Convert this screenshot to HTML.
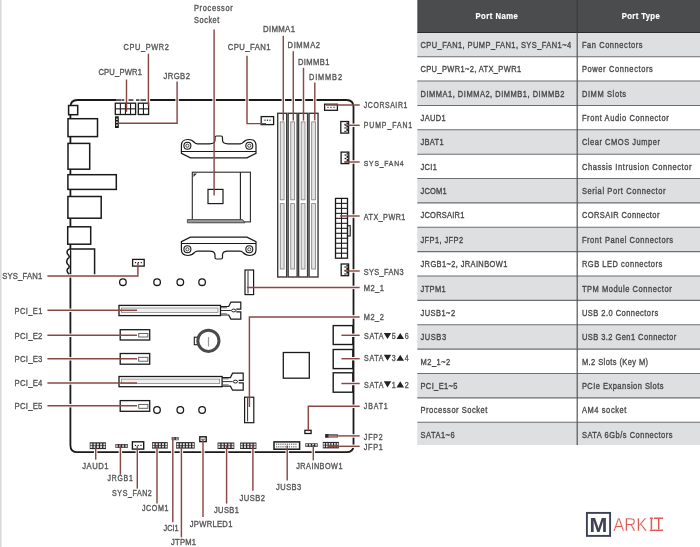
<!DOCTYPE html>
<html><head><meta charset="utf-8"><style>
html,body{margin:0;padding:0;background:#fff;}
body{width:700px;height:547px;overflow:hidden;position:relative;}
svg{position:absolute;left:0;top:0;will-change:transform;}
text{font-family:"Liberation Sans",sans-serif;}
</style></head><body>
<svg width="700" height="547" viewBox="0 0 700 547">
<rect x="0" y="0" width="1.60" height="547.00" fill="#d9d9d9"/>
<path d="M70.4,445.2 L70.4,107.0 Q70.4,100.0 77.4,100.0 L346.5,100.0 Q353.5,100.0 353.5,107.0 L353.5,445.2 Q353.5,452.2 346.5,452.2 L77.4,452.2 Q70.4,452.2 70.4,445.2 Z" fill="none" stroke="#1a1a1a" stroke-width="1.8"/>
<rect x="68.6" y="105.5" width="9.10" height="9.20" fill="#fff" stroke="#1a1a1a" stroke-width="1.5"/>
<rect x="68" y="118.7" width="29.50" height="17.90" fill="#fff" stroke="#1a1a1a" stroke-width="1.5"/>
<rect x="68" y="143.4" width="21.70" height="25.80" fill="#fff" stroke="#1a1a1a" stroke-width="1.5"/>
<rect x="67.9" y="174.7" width="48.40" height="14.70" fill="#fff" stroke="#1a1a1a" stroke-width="1.5"/>
<rect x="67.9" y="196.5" width="33.30" height="21.70" fill="#fff" stroke="#1a1a1a" stroke-width="1.5"/>
<rect x="67.7" y="226.8" width="23.00" height="17.40" fill="#fff" stroke="#1a1a1a" stroke-width="1.5"/>
<path d="M70,249 L94.6,249 L94.6,274.3 M70,249 Q66,250 67.5,254 Q71,257 67.5,259 Q66,262 67.5,264 Q71,267 67.5,269 Q66,272 69.5,274.3" fill="#fff" stroke="#1a1a1a" stroke-width="1.5"/>
<rect x="116" y="98.8" width="32.60" height="2.50" fill="#fff"/>
<rect x="116" y="99.2" width="5.00" height="1.70" fill="#444"/>
<rect x="121.4" y="99.2" width="2.90" height="1.70" fill="#444"/>
<rect x="128.4" y="99.2" width="5.00" height="1.70" fill="#444"/>
<rect x="136" y="99.2" width="3.50" height="1.70" fill="#444"/>
<rect x="140.4" y="99.2" width="5.70" height="1.70" fill="#444"/>
<rect x="115.3" y="103.2" width="20.30" height="11.30" fill="#fff" stroke="#1a1a1a" stroke-width="1.3"/>
<line x1="120.375" y1="103.2" x2="120.375" y2="114.5" stroke="#1a1a1a" stroke-width="1.1"/>
<line x1="125.44999999999999" y1="103.2" x2="125.44999999999999" y2="114.5" stroke="#1a1a1a" stroke-width="1.1"/>
<line x1="130.525" y1="103.2" x2="130.525" y2="114.5" stroke="#1a1a1a" stroke-width="1.1"/>
<line x1="115.3" y1="108.85" x2="135.6" y2="108.85" stroke="#1a1a1a" stroke-width="1.1"/>
<rect x="138.3" y="103.2" width="10.30" height="11.30" fill="#fff" stroke="#1a1a1a" stroke-width="1.3"/>
<line x1="143.45" y1="103.2" x2="143.45" y2="114.5" stroke="#1a1a1a" stroke-width="1.1"/>
<line x1="138.3" y1="108.85" x2="148.6" y2="108.85" stroke="#1a1a1a" stroke-width="1.1"/>
<rect x="115.0" y="116.3" width="3.80" height="11.70" fill="#1a1a1a"/>
<rect x="116.2" y="118.5" width="1.40" height="1.40" fill="#fff"/>
<rect x="116.2" y="121.5" width="1.40" height="1.40" fill="#fff"/>
<rect x="116.2" y="124.5" width="1.40" height="1.40" fill="#fff"/>
<path d="M190.4,237.1 L247,237.1 L256,241.6 L256,249.5 Q256,255.5 249.5,255.5 Q245.5,255.5 243,252.5 Q242,251.2 240,251.2 L228,251.2 Q222.5,251.2 222.5,255 L222.5,257.5 Q222.5,259 221,259 L216.5,259 Q215,259 215,257.5 L215,255 Q215,251.2 209.5,251.2 L197.5,251.2 Q195.5,251.2 194.5,252.5 Q192,255.5 188,255.5 Q181.4,255.5 181.4,249.5 L181.4,241.6 Z" fill="#fff" stroke="#1a1a1a" stroke-width="1.2"/><line x1="181.4" y1="243.5" x2="256" y2="243.5" stroke="#1a1a1a" stroke-width="1.0"/><circle cx="187.4" cy="249.3" r="3.5" fill="none" stroke="#1a1a1a" stroke-width="1.1"/><circle cx="187.4" cy="249.3" r="1.6" fill="none" stroke="#1a1a1a" stroke-width="0.8"/><circle cx="249.3" cy="249.3" r="3.5" fill="none" stroke="#1a1a1a" stroke-width="1.1"/><circle cx="249.3" cy="249.3" r="1.6" fill="none" stroke="#1a1a1a" stroke-width="0.8"/>
<g transform="translate(0,395) scale(1,-1)"><path d="M190.4,237.1 L247,237.1 L256,241.6 L256,249.5 Q256,255.5 249.5,255.5 Q245.5,255.5 243,252.5 Q242,251.2 240,251.2 L228,251.2 Q222.5,251.2 222.5,255 L222.5,257.5 Q222.5,259 221,259 L216.5,259 Q215,259 215,257.5 L215,255 Q215,251.2 209.5,251.2 L197.5,251.2 Q195.5,251.2 194.5,252.5 Q192,255.5 188,255.5 Q181.4,255.5 181.4,249.5 L181.4,241.6 Z" fill="#fff" stroke="#1a1a1a" stroke-width="1.2"/><line x1="181.4" y1="243.5" x2="256" y2="243.5" stroke="#1a1a1a" stroke-width="1.0"/><circle cx="187.4" cy="249.3" r="3.5" fill="none" stroke="#1a1a1a" stroke-width="1.1"/><circle cx="187.4" cy="249.3" r="1.6" fill="none" stroke="#1a1a1a" stroke-width="0.8"/><circle cx="249.3" cy="249.3" r="3.5" fill="none" stroke="#1a1a1a" stroke-width="1.1"/><circle cx="249.3" cy="249.3" r="1.6" fill="none" stroke="#1a1a1a" stroke-width="0.8"/></g>
<rect x="192.3" y="172.2" width="58.10" height="49.70" fill="#fff" stroke="#2a2a2a" stroke-width="1.1"/>
<line x1="240.4" y1="172.2" x2="240.4" y2="221.9" stroke="#1a1a1a" stroke-width="1.1"/>
<rect x="208" y="189.4" width="15.00" height="14.20" fill="none" stroke="#1a1a1a" stroke-width="1.2"/>
<path d="M187.4,219.6 L242.5,219.6 L245,222.8 L187.4,222.8 Z" fill="#9a9a9a" stroke="#444" stroke-width="0.9"/>
<path d="M193.5,173.5 L197,173.5 L193.5,177 Z" fill="#333"/>
<rect x="277.7" y="113.3" width="9.00" height="163.70" fill="#fff" stroke="#3a3a3a" stroke-width="1.4"/>
<rect x="280.3" y="121.9" width="3.80" height="77.90" fill="#e4e4e4" stroke="#8a8a8a" stroke-width="0.9"/>
<rect x="280.3" y="203.6" width="3.80" height="65.40" fill="#e4e4e4" stroke="#8a8a8a" stroke-width="0.9"/>
<rect x="288.15" y="113.3" width="9.00" height="163.70" fill="#fff" stroke="#3a3a3a" stroke-width="1.4"/>
<rect x="290.75" y="121.9" width="3.80" height="77.90" fill="#e4e4e4" stroke="#8a8a8a" stroke-width="0.9"/>
<rect x="290.75" y="203.6" width="3.80" height="65.40" fill="#e4e4e4" stroke="#8a8a8a" stroke-width="0.9"/>
<rect x="298.59999999999997" y="113.3" width="9.00" height="163.70" fill="#fff" stroke="#3a3a3a" stroke-width="1.4"/>
<rect x="301.2" y="121.9" width="3.80" height="77.90" fill="#e4e4e4" stroke="#8a8a8a" stroke-width="0.9"/>
<rect x="301.2" y="203.6" width="3.80" height="65.40" fill="#e4e4e4" stroke="#8a8a8a" stroke-width="0.9"/>
<rect x="309.05" y="113.3" width="9.00" height="163.70" fill="#fff" stroke="#3a3a3a" stroke-width="1.4"/>
<rect x="311.65000000000003" y="121.9" width="3.80" height="77.90" fill="#e4e4e4" stroke="#8a8a8a" stroke-width="0.9"/>
<rect x="311.65000000000003" y="203.6" width="3.80" height="65.40" fill="#e4e4e4" stroke="#8a8a8a" stroke-width="0.9"/>
<rect x="324.6" y="104.2" width="12.80" height="6.10" fill="#fff" stroke="#1a1a1a" stroke-width="1.3"/>
<rect x="327.4" y="106.8" width="1.20" height="1.00" fill="#1a1a1a"/>
<rect x="330.4" y="106.8" width="1.20" height="1.00" fill="#1a1a1a"/>
<rect x="333.4" y="106.8" width="1.20" height="1.00" fill="#1a1a1a"/>
<rect x="340.8" y="121.5" width="7.80" height="11.60" fill="#fff" stroke="#1a1a1a" stroke-width="1.3"/>
<rect x="346.40000000000003" y="122.5" width="1.60" height="9.60" fill="#1a1a1a"/>
<rect x="344.40000000000003" y="123.82" width="1.40" height="1.30" fill="#1a1a1a"/>
<rect x="346.6" y="123.91999999999999" width="1.10" height="1.10" fill="#fff"/>
<rect x="344.40000000000003" y="127.3" width="1.40" height="1.30" fill="#1a1a1a"/>
<rect x="346.6" y="127.39999999999999" width="1.10" height="1.10" fill="#fff"/>
<rect x="344.40000000000003" y="130.78" width="1.40" height="1.30" fill="#1a1a1a"/>
<rect x="346.6" y="130.88" width="1.10" height="1.10" fill="#fff"/>
<rect x="341.1" y="152.1" width="7.70" height="11.50" fill="#fff" stroke="#1a1a1a" stroke-width="1.3"/>
<rect x="346.6" y="153.1" width="1.60" height="9.50" fill="#1a1a1a"/>
<rect x="344.6" y="154.4" width="1.40" height="1.30" fill="#1a1a1a"/>
<rect x="346.8" y="154.5" width="1.10" height="1.10" fill="#fff"/>
<rect x="344.6" y="157.85" width="1.40" height="1.30" fill="#1a1a1a"/>
<rect x="346.8" y="157.95" width="1.10" height="1.10" fill="#fff"/>
<rect x="344.6" y="161.29999999999998" width="1.40" height="1.30" fill="#1a1a1a"/>
<rect x="346.8" y="161.39999999999998" width="1.10" height="1.10" fill="#fff"/>
<rect x="335.5" y="198.4" width="12.00" height="59.80" fill="#fff" stroke="#1a1a1a" stroke-width="1.3"/>
<line x1="341.5" y1="198.4" x2="341.5" y2="258.2" stroke="#1a1a1a" stroke-width="1.1"/>
<line x1="335.5" y1="203.38333333333333" x2="347.5" y2="203.38333333333333" stroke="#1a1a1a" stroke-width="1.1"/>
<line x1="335.5" y1="208.36666666666667" x2="347.5" y2="208.36666666666667" stroke="#1a1a1a" stroke-width="1.1"/>
<line x1="335.5" y1="213.35" x2="347.5" y2="213.35" stroke="#1a1a1a" stroke-width="1.1"/>
<line x1="335.5" y1="218.33333333333334" x2="347.5" y2="218.33333333333334" stroke="#1a1a1a" stroke-width="1.1"/>
<line x1="335.5" y1="223.31666666666666" x2="347.5" y2="223.31666666666666" stroke="#1a1a1a" stroke-width="1.1"/>
<line x1="335.5" y1="228.3" x2="347.5" y2="228.3" stroke="#1a1a1a" stroke-width="1.1"/>
<line x1="335.5" y1="233.28333333333333" x2="347.5" y2="233.28333333333333" stroke="#1a1a1a" stroke-width="1.1"/>
<line x1="335.5" y1="238.26666666666665" x2="347.5" y2="238.26666666666665" stroke="#1a1a1a" stroke-width="1.1"/>
<line x1="335.5" y1="243.25" x2="347.5" y2="243.25" stroke="#1a1a1a" stroke-width="1.1"/>
<line x1="335.5" y1="248.23333333333332" x2="347.5" y2="248.23333333333332" stroke="#1a1a1a" stroke-width="1.1"/>
<line x1="335.5" y1="253.21666666666667" x2="347.5" y2="253.21666666666667" stroke="#1a1a1a" stroke-width="1.1"/>
<rect x="347.5" y="225.7" width="2.70" height="10.30" fill="none" stroke="#1a1a1a" stroke-width="1.1"/>
<rect x="341.2" y="264" width="7.40" height="11.70" fill="#fff" stroke="#1a1a1a" stroke-width="1.3"/>
<rect x="346.40000000000003" y="265" width="1.60" height="9.70" fill="#1a1a1a"/>
<rect x="344.40000000000003" y="266.34" width="1.40" height="1.30" fill="#1a1a1a"/>
<rect x="346.6" y="266.44" width="1.10" height="1.10" fill="#fff"/>
<rect x="344.40000000000003" y="269.85" width="1.40" height="1.30" fill="#1a1a1a"/>
<rect x="346.6" y="269.95000000000005" width="1.10" height="1.10" fill="#fff"/>
<rect x="344.40000000000003" y="273.36" width="1.40" height="1.30" fill="#1a1a1a"/>
<rect x="346.6" y="273.46000000000004" width="1.10" height="1.10" fill="#fff"/>
<rect x="261.2" y="116.6" width="12.40" height="8.00" fill="#fff" stroke="#1a1a1a" stroke-width="1.3"/>
<rect x="264.4" y="119.6" width="1.20" height="1.20" fill="#1a1a1a"/>
<rect x="266.9" y="119.6" width="1.20" height="1.20" fill="#1a1a1a"/>
<rect x="269.4" y="119.6" width="1.20" height="1.20" fill="#1a1a1a"/>
<rect x="132.6" y="259.4" width="11.60" height="6.70" fill="#fff" stroke="#1a1a1a" stroke-width="1.3"/>
<rect x="134.9" y="262" width="1.20" height="1.20" fill="#1a1a1a"/>
<rect x="137.8" y="262" width="1.20" height="1.20" fill="#1a1a1a"/>
<rect x="140.70000000000002" y="262" width="1.20" height="1.20" fill="#1a1a1a"/>
<rect x="245" y="270" width="8.60" height="24.60" fill="#fff" stroke="#1a1a1a" stroke-width="1.2"/>
<line x1="248" y1="271" x2="248" y2="293.5" stroke="#1a1a1a" stroke-width="0.9"/>
<rect x="244.6" y="397.2" width="9.20" height="25.50" fill="#fff" stroke="#1a1a1a" stroke-width="1.2"/>
<line x1="247.6" y1="398" x2="247.6" y2="421.5" stroke="#1a1a1a" stroke-width="0.9"/>
<rect x="283.3" y="352.5" width="26.00" height="25.70" fill="none" stroke="#1a1a1a" stroke-width="1.3"/>
<rect x="333.2" y="325.6" width="19.60" height="18.90" fill="#fff" stroke="#1a1a1a" stroke-width="1.4"/>
<rect x="333.2" y="349.5" width="19.60" height="19.10" fill="#fff" stroke="#1a1a1a" stroke-width="1.4"/>
<rect x="333.2" y="372.8" width="19.60" height="19.40" fill="#fff" stroke="#1a1a1a" stroke-width="1.4"/>
<rect x="119" y="305.4" width="101.50" height="10.20" fill="#fff" stroke="#1a1a1a" stroke-width="1.3"/>
<rect x="121.5" y="308.0" width="96.50" height="4.50" fill="#f0f0f0" stroke="#888" stroke-width="0.8"/>
<path d="M220.5,306.5 L228.70000000000002,306.5 L230.9,302.09999999999997 L240.8,302.09999999999997 L240.8,309.2 L236.3,309.2 M236.3,311.8 L240.8,311.8 L240.8,319.1 L230.9,319.1 L228.70000000000002,315.0 L220.5,315.0" fill="#fff" stroke="#1a1a1a" stroke-width="1.2"/>
<line x1="221.0" y1="307.7" x2="226.9" y2="307.7" stroke="#777" stroke-width="1.2"/>
<line x1="221.0" y1="313.8" x2="226.9" y2="313.8" stroke="#777" stroke-width="1.2"/>
<line x1="221.0" y1="310.5" x2="230.9" y2="310.5" stroke="#1a1a1a" stroke-width="0.9"/>
<ellipse cx="233.70000000000002" cy="310.5" rx="2.2" ry="1.4" fill="#fff" stroke="#1a1a1a" stroke-width="1.0"/>
<rect x="120.2" y="329.7" width="29.50" height="10.30" fill="#fff" stroke="#1a1a1a" stroke-width="1.3"/>
<rect x="138.7" y="333.5" width="9.20" height="3.50" fill="none" stroke="#555" stroke-width="0.9"/>
<rect x="120.2" y="353.5" width="29.50" height="10.70" fill="#fff" stroke="#1a1a1a" stroke-width="1.3"/>
<rect x="138.7" y="357.3" width="9.20" height="3.90" fill="none" stroke="#555" stroke-width="0.9"/>
<rect x="119" y="376.5" width="103.10" height="10.20" fill="#fff" stroke="#1a1a1a" stroke-width="1.3"/>
<rect x="121.5" y="379.1" width="98.10" height="4.50" fill="#f0f0f0" stroke="#888" stroke-width="0.8"/>
<path d="M222.1,377.6 L230.4,377.6 L232.6,373.2 L243.2,373.2 L243.2,380.3 L238.7,380.3 M238.7,382.90000000000003 L243.2,382.90000000000003 L243.2,390.2 L232.6,390.2 L230.4,386.09999999999997 L222.1,386.09999999999997" fill="#fff" stroke="#1a1a1a" stroke-width="1.2"/>
<line x1="222.6" y1="378.8" x2="228.6" y2="378.8" stroke="#777" stroke-width="1.2"/>
<line x1="222.6" y1="384.9" x2="228.6" y2="384.9" stroke="#777" stroke-width="1.2"/>
<line x1="222.6" y1="381.6" x2="232.6" y2="381.6" stroke="#1a1a1a" stroke-width="0.9"/>
<ellipse cx="235.4" cy="381.6" rx="2.2" ry="1.4" fill="#fff" stroke="#1a1a1a" stroke-width="1.0"/>
<rect x="120.2" y="400.6" width="29.50" height="10.70" fill="#fff" stroke="#1a1a1a" stroke-width="1.3"/>
<rect x="138.7" y="404.40000000000003" width="9.20" height="3.90" fill="none" stroke="#555" stroke-width="0.9"/>
<rect x="194.3" y="337.2" width="5.20" height="7.50" fill="#fff" stroke="#1a1a1a" stroke-width="1.1"/>
<circle cx="208.4" cy="340.8" r="10.6" fill="#fff" stroke="#4a4a4a" stroke-width="3.0"/>
<rect x="207.9" y="337" width="1.20" height="9.50" fill="#999"/>
<circle cx="122.9" cy="282.2" r="3.3" fill="none" stroke="#1a1a1a" stroke-width="1.3"/>
<circle cx="157.1" cy="282.2" r="3.3" fill="none" stroke="#1a1a1a" stroke-width="1.3"/>
<circle cx="180.3" cy="282.2" r="3.3" fill="none" stroke="#1a1a1a" stroke-width="1.3"/>
<circle cx="202.1" cy="282.2" r="3.3" fill="none" stroke="#1a1a1a" stroke-width="1.3"/>
<circle cx="157" cy="410" r="3.3" fill="none" stroke="#1a1a1a" stroke-width="1.3"/>
<circle cx="180.3" cy="410" r="3.3" fill="none" stroke="#1a1a1a" stroke-width="1.3"/>
<circle cx="202.1" cy="410" r="3.3" fill="none" stroke="#1a1a1a" stroke-width="1.3"/>
<rect x="89.7" y="442.3" width="16.30" height="6.80" fill="#2a2a2a"/>
<rect x="90.352" y="443.456" width="1.96" height="1.90" fill="#e2e2e2"/>
<rect x="90.352" y="446.04" width="1.96" height="1.90" fill="#e2e2e2"/>
<rect x="93.61200000000001" y="443.456" width="1.96" height="1.90" fill="#e2e2e2"/>
<rect x="93.61200000000001" y="446.04" width="1.96" height="1.90" fill="#e2e2e2"/>
<rect x="96.872" y="443.456" width="1.96" height="1.90" fill="#e2e2e2"/>
<rect x="96.872" y="446.04" width="1.96" height="1.90" fill="#e2e2e2"/>
<rect x="100.132" y="443.456" width="1.96" height="1.90" fill="#e2e2e2"/>
<rect x="100.132" y="446.04" width="1.96" height="1.90" fill="#e2e2e2"/>
<rect x="103.392" y="443.456" width="1.96" height="1.90" fill="#e2e2e2"/>
<rect x="103.392" y="446.04" width="1.96" height="1.90" fill="#e2e2e2"/>
<rect x="115.4" y="444" width="12.40" height="3.90" fill="#2a2a2a"/>
<rect x="116.02000000000001" y="444.663" width="1.86" height="1.09" fill="#e2e2e2"/>
<rect x="116.02000000000001" y="446.145" width="1.86" height="1.09" fill="#e2e2e2"/>
<rect x="119.12" y="444.663" width="1.86" height="1.09" fill="#e2e2e2"/>
<rect x="119.12" y="446.145" width="1.86" height="1.09" fill="#e2e2e2"/>
<rect x="122.22" y="444.663" width="1.86" height="1.09" fill="#e2e2e2"/>
<rect x="122.22" y="446.145" width="1.86" height="1.09" fill="#e2e2e2"/>
<rect x="125.32000000000001" y="444.663" width="1.86" height="1.09" fill="#e2e2e2"/>
<rect x="125.32000000000001" y="446.145" width="1.86" height="1.09" fill="#e2e2e2"/>
<rect x="132.4" y="441.8" width="11.30" height="7.30" fill="#fff" stroke="#1a1a1a" stroke-width="1.4"/>
<rect x="134.9" y="444.8" width="1.20" height="1.20" fill="#1a1a1a"/>
<rect x="137.6" y="444.8" width="1.20" height="1.20" fill="#1a1a1a"/>
<rect x="140.4" y="444.8" width="1.20" height="1.20" fill="#1a1a1a"/>
<rect x="152" y="442.1" width="15.70" height="6.50" fill="#2a2a2a"/>
<rect x="152.628" y="443.20500000000004" width="1.88" height="1.82" fill="#e2e2e2"/>
<rect x="152.628" y="445.675" width="1.88" height="1.82" fill="#e2e2e2"/>
<rect x="155.76799999999997" y="443.20500000000004" width="1.88" height="1.82" fill="#e2e2e2"/>
<rect x="155.76799999999997" y="445.675" width="1.88" height="1.82" fill="#e2e2e2"/>
<rect x="158.908" y="443.20500000000004" width="1.88" height="1.82" fill="#e2e2e2"/>
<rect x="158.908" y="445.675" width="1.88" height="1.82" fill="#e2e2e2"/>
<rect x="162.04799999999997" y="443.20500000000004" width="1.88" height="1.82" fill="#e2e2e2"/>
<rect x="162.04799999999997" y="445.675" width="1.88" height="1.82" fill="#e2e2e2"/>
<rect x="165.188" y="443.20500000000004" width="1.88" height="1.82" fill="#e2e2e2"/>
<rect x="165.188" y="445.675" width="1.88" height="1.82" fill="#e2e2e2"/>
<rect x="171.7" y="437" width="6.90" height="3.20" fill="#2a2a2a"/>
<rect x="172.39" y="437.544" width="2.07" height="0.90" fill="#e2e2e2"/>
<rect x="172.39" y="438.76" width="2.07" height="0.90" fill="#e2e2e2"/>
<rect x="175.83999999999997" y="437.544" width="2.07" height="0.90" fill="#e2e2e2"/>
<rect x="175.83999999999997" y="438.76" width="2.07" height="0.90" fill="#e2e2e2"/>
<rect x="176.1" y="442.1" width="18.60" height="6.50" fill="#2a2a2a"/>
<rect x="176.72" y="443.20500000000004" width="1.86" height="1.82" fill="#e2e2e2"/>
<rect x="176.72" y="445.675" width="1.86" height="1.82" fill="#e2e2e2"/>
<rect x="179.82" y="443.20500000000004" width="1.86" height="1.82" fill="#e2e2e2"/>
<rect x="179.82" y="445.675" width="1.86" height="1.82" fill="#e2e2e2"/>
<rect x="182.92" y="443.20500000000004" width="1.86" height="1.82" fill="#e2e2e2"/>
<rect x="182.92" y="445.675" width="1.86" height="1.82" fill="#e2e2e2"/>
<rect x="186.01999999999998" y="443.20500000000004" width="1.86" height="1.82" fill="#e2e2e2"/>
<rect x="186.01999999999998" y="445.675" width="1.86" height="1.82" fill="#e2e2e2"/>
<rect x="189.12" y="443.20500000000004" width="1.86" height="1.82" fill="#e2e2e2"/>
<rect x="189.12" y="445.675" width="1.86" height="1.82" fill="#e2e2e2"/>
<rect x="192.22" y="443.20500000000004" width="1.86" height="1.82" fill="#e2e2e2"/>
<rect x="192.22" y="445.675" width="1.86" height="1.82" fill="#e2e2e2"/>
<rect x="199.8" y="436.8" width="6.40" height="4.80" fill="#fff" stroke="#1a1a1a" stroke-width="1.4"/>
<rect x="201.4" y="438.6" width="1.00" height="1.20" fill="#1a1a1a"/>
<rect x="203.6" y="438.6" width="1.00" height="1.20" fill="#1a1a1a"/>
<rect x="217.6" y="442.5" width="16.70" height="6.50" fill="#2a2a2a"/>
<rect x="218.268" y="443.605" width="2.00" height="1.82" fill="#e2e2e2"/>
<rect x="218.268" y="446.075" width="2.00" height="1.82" fill="#e2e2e2"/>
<rect x="221.608" y="443.605" width="2.00" height="1.82" fill="#e2e2e2"/>
<rect x="221.608" y="446.075" width="2.00" height="1.82" fill="#e2e2e2"/>
<rect x="224.948" y="443.605" width="2.00" height="1.82" fill="#e2e2e2"/>
<rect x="224.948" y="446.075" width="2.00" height="1.82" fill="#e2e2e2"/>
<rect x="228.288" y="443.605" width="2.00" height="1.82" fill="#e2e2e2"/>
<rect x="228.288" y="446.075" width="2.00" height="1.82" fill="#e2e2e2"/>
<rect x="231.62800000000001" y="443.605" width="2.00" height="1.82" fill="#e2e2e2"/>
<rect x="231.62800000000001" y="446.075" width="2.00" height="1.82" fill="#e2e2e2"/>
<rect x="240.1" y="442.5" width="16.30" height="6.50" fill="#2a2a2a"/>
<rect x="240.75199999999998" y="443.605" width="1.96" height="1.82" fill="#e2e2e2"/>
<rect x="240.75199999999998" y="446.075" width="1.96" height="1.82" fill="#e2e2e2"/>
<rect x="244.01199999999997" y="443.605" width="1.96" height="1.82" fill="#e2e2e2"/>
<rect x="244.01199999999997" y="446.075" width="1.96" height="1.82" fill="#e2e2e2"/>
<rect x="247.27199999999996" y="443.605" width="1.96" height="1.82" fill="#e2e2e2"/>
<rect x="247.27199999999996" y="446.075" width="1.96" height="1.82" fill="#e2e2e2"/>
<rect x="250.53199999999998" y="443.605" width="1.96" height="1.82" fill="#e2e2e2"/>
<rect x="250.53199999999998" y="446.075" width="1.96" height="1.82" fill="#e2e2e2"/>
<rect x="253.79199999999997" y="443.605" width="1.96" height="1.82" fill="#e2e2e2"/>
<rect x="253.79199999999997" y="446.075" width="1.96" height="1.82" fill="#e2e2e2"/>
<rect x="274" y="441.9" width="25.60" height="7.30" fill="#fff" stroke="#1a1a1a" stroke-width="1.5"/>
<rect x="276.0" y="443.6" width="1.20" height="1.20" fill="#666"/>
<rect x="276.0" y="446.2" width="1.20" height="1.20" fill="#666"/>
<rect x="278.15" y="443.6" width="1.20" height="1.20" fill="#666"/>
<rect x="278.15" y="446.2" width="1.20" height="1.20" fill="#666"/>
<rect x="280.3" y="443.6" width="1.20" height="1.20" fill="#666"/>
<rect x="280.3" y="446.2" width="1.20" height="1.20" fill="#666"/>
<rect x="282.45" y="443.6" width="1.20" height="1.20" fill="#666"/>
<rect x="282.45" y="446.2" width="1.20" height="1.20" fill="#666"/>
<rect x="284.6" y="443.6" width="1.20" height="1.20" fill="#666"/>
<rect x="284.6" y="446.2" width="1.20" height="1.20" fill="#666"/>
<rect x="286.75" y="443.6" width="1.20" height="1.20" fill="#666"/>
<rect x="286.75" y="446.2" width="1.20" height="1.20" fill="#666"/>
<rect x="288.9" y="443.6" width="1.20" height="1.20" fill="#666"/>
<rect x="288.9" y="446.2" width="1.20" height="1.20" fill="#666"/>
<rect x="291.05" y="443.6" width="1.20" height="1.20" fill="#666"/>
<rect x="291.05" y="446.2" width="1.20" height="1.20" fill="#666"/>
<rect x="293.2" y="443.6" width="1.20" height="1.20" fill="#666"/>
<rect x="293.2" y="446.2" width="1.20" height="1.20" fill="#666"/>
<rect x="295.35" y="443.6" width="1.20" height="1.20" fill="#666"/>
<rect x="295.35" y="446.2" width="1.20" height="1.20" fill="#666"/>
<rect x="305.3" y="443.3" width="12.40" height="3.60" fill="#2a2a2a"/>
<rect x="305.92" y="443.912" width="1.86" height="1.01" fill="#e2e2e2"/>
<rect x="305.92" y="445.28" width="1.86" height="1.01" fill="#e2e2e2"/>
<rect x="309.02" y="443.912" width="1.86" height="1.01" fill="#e2e2e2"/>
<rect x="309.02" y="445.28" width="1.86" height="1.01" fill="#e2e2e2"/>
<rect x="312.12" y="443.912" width="1.86" height="1.01" fill="#e2e2e2"/>
<rect x="312.12" y="445.28" width="1.86" height="1.01" fill="#e2e2e2"/>
<rect x="315.22" y="443.912" width="1.86" height="1.01" fill="#e2e2e2"/>
<rect x="315.22" y="445.28" width="1.86" height="1.01" fill="#e2e2e2"/>
<rect x="304.9" y="430.3" width="6.20" height="3.20" fill="#fff" stroke="#1a1a1a" stroke-width="1.3"/>
<rect x="325.8" y="434.5" width="11.60" height="2.70" fill="#fff" stroke="#666" stroke-width="0.9"/>
<rect x="325.2" y="434.1" width="3.40" height="3.50" fill="#2a2a2a"/>
<rect x="322.8" y="441.9" width="16.10" height="6.50" fill="#2a2a2a"/>
<rect x="323.3366666666667" y="443.005" width="1.61" height="1.82" fill="#e2e2e2"/>
<rect x="323.3366666666667" y="445.47499999999997" width="1.61" height="1.82" fill="#e2e2e2"/>
<rect x="326.02000000000004" y="443.005" width="1.61" height="1.82" fill="#e2e2e2"/>
<rect x="326.02000000000004" y="445.47499999999997" width="1.61" height="1.82" fill="#e2e2e2"/>
<rect x="328.7033333333334" y="443.005" width="1.61" height="1.82" fill="#e2e2e2"/>
<rect x="328.7033333333334" y="445.47499999999997" width="1.61" height="1.82" fill="#e2e2e2"/>
<rect x="331.3866666666667" y="443.005" width="1.61" height="1.82" fill="#e2e2e2"/>
<rect x="331.3866666666667" y="445.47499999999997" width="1.61" height="1.82" fill="#e2e2e2"/>
<rect x="334.07" y="443.005" width="1.61" height="1.82" fill="#e2e2e2"/>
<rect x="334.07" y="445.47499999999997" width="1.61" height="1.82" fill="#e2e2e2"/>
<rect x="336.75333333333333" y="443.005" width="1.61" height="1.82" fill="#e2e2e2"/>
<rect x="336.75333333333333" y="445.47499999999997" width="1.61" height="1.82" fill="#e2e2e2"/>
<rect x="124.8" y="98.5" width="3.40" height="3.00" fill="#fff"/>
<rect x="146.70000000000002" y="98.5" width="3.40" height="3.00" fill="#fff"/>
<rect x="175.4" y="98.5" width="3.40" height="3.00" fill="#fff"/>
<rect x="212.4" y="98.5" width="3.40" height="3.00" fill="#fff"/>
<rect x="245.3" y="98.5" width="3.40" height="3.00" fill="#fff"/>
<rect x="281.6" y="98.5" width="3.40" height="3.00" fill="#fff"/>
<rect x="291.6" y="98.5" width="3.40" height="3.00" fill="#fff"/>
<rect x="301.8" y="98.5" width="3.40" height="3.00" fill="#fff"/>
<rect x="313.1" y="98.5" width="3.40" height="3.00" fill="#fff"/>
<rect x="352.0" y="123.6" width="3.00" height="3.40" fill="#fff"/>
<rect x="352.0" y="160.3" width="3.00" height="3.40" fill="#fff"/>
<rect x="352.0" y="214.3" width="3.00" height="3.40" fill="#fff"/>
<rect x="352.0" y="269.3" width="3.00" height="3.40" fill="#fff"/>
<rect x="352.0" y="285.7" width="3.00" height="3.40" fill="#fff"/>
<rect x="352.0" y="315.2" width="3.00" height="3.40" fill="#fff"/>
<rect x="352.0" y="333.6" width="3.00" height="3.40" fill="#fff"/>
<rect x="352.0" y="357.0" width="3.00" height="3.40" fill="#fff"/>
<rect x="352.0" y="381.8" width="3.00" height="3.40" fill="#fff"/>
<rect x="352.0" y="404.6" width="3.00" height="3.40" fill="#fff"/>
<rect x="352.0" y="434.2" width="3.00" height="3.40" fill="#fff"/>
<rect x="352.0" y="444.6" width="3.00" height="3.40" fill="#fff"/>
<rect x="68.9" y="274.2" width="3.00" height="3.40" fill="#fff"/>
<rect x="68.9" y="308.6" width="3.00" height="3.40" fill="#fff"/>
<rect x="68.9" y="333.6" width="3.00" height="3.40" fill="#fff"/>
<rect x="68.9" y="357.1" width="3.00" height="3.40" fill="#fff"/>
<rect x="68.9" y="381.2" width="3.00" height="3.40" fill="#fff"/>
<rect x="68.9" y="404.0" width="3.00" height="3.40" fill="#fff"/>
<rect x="94.0" y="450.7" width="3.40" height="3.00" fill="#fff"/>
<rect x="118.7" y="450.7" width="3.40" height="3.00" fill="#fff"/>
<rect x="135.60000000000002" y="450.7" width="3.40" height="3.00" fill="#fff"/>
<rect x="155.3" y="450.7" width="3.40" height="3.00" fill="#fff"/>
<rect x="171.10000000000002" y="450.7" width="3.40" height="3.00" fill="#fff"/>
<rect x="179.70000000000002" y="450.7" width="3.40" height="3.00" fill="#fff"/>
<rect x="201.3" y="450.7" width="3.40" height="3.00" fill="#fff"/>
<rect x="224.9" y="450.7" width="3.40" height="3.00" fill="#fff"/>
<rect x="251.20000000000002" y="450.7" width="3.40" height="3.00" fill="#fff"/>
<rect x="285.5" y="450.7" width="3.40" height="3.00" fill="#fff"/>
<rect x="311.6" y="450.7" width="3.40" height="3.00" fill="#fff"/>
<polyline points="126.5,79.5 126.5,111.8" fill="none" stroke="#8a4843" stroke-width="1.45"/>
<polyline points="148.4,53.7 148.4,105.6" fill="none" stroke="#8a4843" stroke-width="1.45"/>
<polyline points="118.8,123.2 177.1,123.2 177.1,81.4" fill="none" stroke="#8a4843" stroke-width="1.45"/>
<polyline points="214.1,29.4 214.1,195.4" fill="none" stroke="#8a4843" stroke-width="1.45"/>
<polyline points="247,55.8 247,123.6 266,123.6" fill="none" stroke="#8a4843" stroke-width="1.45"/>
<polyline points="283.3,35.8 283.3,120.6" fill="none" stroke="#8a4843" stroke-width="1.45"/>
<polyline points="293.3,51.2 293.3,120.6" fill="none" stroke="#8a4843" stroke-width="1.45"/>
<polyline points="303.5,67.8 303.5,120.6" fill="none" stroke="#8a4843" stroke-width="1.45"/>
<polyline points="314.8,82.4 314.8,120.6" fill="none" stroke="#8a4843" stroke-width="1.45"/>
<polyline points="326,104.9 359.7,104.9" fill="none" stroke="#8a4843" stroke-width="1.45"/>
<polyline points="344.7,125.3 359.7,125.3" fill="none" stroke="#8a4843" stroke-width="1.45"/>
<polyline points="344.5,162 359.7,162" fill="none" stroke="#8a4843" stroke-width="1.45"/>
<polyline points="340,216 359.7,216" fill="none" stroke="#8a4843" stroke-width="1.45"/>
<polyline points="344.5,271 359.7,271" fill="none" stroke="#8a4843" stroke-width="1.45"/>
<polyline points="247,287.4 359.7,287.4" fill="none" stroke="#8a4843" stroke-width="1.45"/>
<polyline points="341.4,335.3 359.7,335.3" fill="none" stroke="#8a4843" stroke-width="1.45"/>
<polyline points="341.4,358.7 359.7,358.7" fill="none" stroke="#8a4843" stroke-width="1.45"/>
<polyline points="341.4,383.5 359.7,383.5" fill="none" stroke="#8a4843" stroke-width="1.45"/>
<polyline points="328,435.9 359.7,435.9" fill="none" stroke="#8a4843" stroke-width="1.45"/>
<polyline points="328,446.3 359.7,446.3" fill="none" stroke="#8a4843" stroke-width="1.45"/>
<polyline points="249.4,406.9 249.4,316.9 359.7,316.9" fill="none" stroke="#8a4843" stroke-width="1.45"/>
<polyline points="308.3,431.2 308.3,406.3 359.7,406.3" fill="none" stroke="#8a4843" stroke-width="1.45"/>
<polyline points="47.4,275.9 137.9,275.9 137.9,263" fill="none" stroke="#8a4843" stroke-width="1.45"/>
<polyline points="47.4,310.3 137,310.3" fill="none" stroke="#8a4843" stroke-width="1.45"/>
<polyline points="47.4,335.3 137,335.3" fill="none" stroke="#8a4843" stroke-width="1.45"/>
<polyline points="47.4,358.8 137,358.8" fill="none" stroke="#8a4843" stroke-width="1.45"/>
<polyline points="47.4,382.9 137,382.9" fill="none" stroke="#8a4843" stroke-width="1.45"/>
<polyline points="47.4,405.7 137,405.7" fill="none" stroke="#8a4843" stroke-width="1.45"/>
<polyline points="95.7,446 95.7,459.7" fill="none" stroke="#8a4843" stroke-width="1.45"/>
<polyline points="120.4,445.5 120.4,474.7" fill="none" stroke="#8a4843" stroke-width="1.45"/>
<polyline points="137.3,446 137.3,488.7" fill="none" stroke="#8a4843" stroke-width="1.45"/>
<polyline points="157,445.5 157,503.5" fill="none" stroke="#8a4843" stroke-width="1.45"/>
<polyline points="172.8,438.5 172.8,522.2" fill="none" stroke="#8a4843" stroke-width="1.45"/>
<polyline points="181.4,445.5 181.4,537.3" fill="none" stroke="#8a4843" stroke-width="1.45"/>
<polyline points="203,439 203,517" fill="none" stroke="#8a4843" stroke-width="1.45"/>
<polyline points="226.6,445.5 226.6,503.6" fill="none" stroke="#8a4843" stroke-width="1.45"/>
<polyline points="252.9,445.5 252.9,490.8" fill="none" stroke="#8a4843" stroke-width="1.45"/>
<polyline points="287.2,445.5 287.2,480.5" fill="none" stroke="#8a4843" stroke-width="1.45"/>
<polyline points="313.3,445 313.3,460.4" fill="none" stroke="#8a4843" stroke-width="1.45"/>
<text transform="translate(194.00,10.80) scale(0.88,1)" font-size="8.37" fill="#555555" stroke="#555555" stroke-width="0.36" font-weight="normal" textLength="43.9" lengthAdjust="spacing">Processor</text>
<text transform="translate(194.00,22.80) scale(0.88,1)" font-size="8.37" fill="#555555" stroke="#555555" stroke-width="0.36" font-weight="normal" textLength="28.8" lengthAdjust="spacing">Socket</text>
<text transform="translate(123.60,49.90) scale(0.84,1)" font-size="8.78" fill="#555555" stroke="#555555" stroke-width="0.36" font-weight="normal" textLength="53.9" lengthAdjust="spacing">CPU_PWR2</text>
<text transform="translate(98.40,75.00) scale(0.84,1)" font-size="9.05" fill="#555555" stroke="#555555" stroke-width="0.36" font-weight="normal" textLength="51.8" lengthAdjust="spacing">CPU_PWR1</text>
<text transform="translate(163.50,78.90) scale(0.84,1)" font-size="9.19" fill="#555555" stroke="#555555" stroke-width="0.36" font-weight="normal" textLength="31.5" lengthAdjust="spacing">JRGB2</text>
<text transform="translate(227.80,50.40) scale(0.84,1)" font-size="9.19" fill="#555555" stroke="#555555" stroke-width="0.36" font-weight="normal" textLength="50.8" lengthAdjust="spacing">CPU_FAN1</text>
<text transform="translate(263.00,32.00) scale(0.84,1)" font-size="9.33" fill="#555555" stroke="#555555" stroke-width="0.36" font-weight="normal" textLength="38.1" lengthAdjust="spacing">DIMMA1</text>
<text transform="translate(287.60,48.10) scale(0.84,1)" font-size="9.05" fill="#555555" stroke="#555555" stroke-width="0.36" font-weight="normal" textLength="38.6" lengthAdjust="spacing">DIMMA2</text>
<text transform="translate(297.90,64.80) scale(0.84,1)" font-size="9.05" fill="#555555" stroke="#555555" stroke-width="0.36" font-weight="normal" textLength="37.7" lengthAdjust="spacing">DIMMB1</text>
<text transform="translate(309.00,80.10) scale(0.84,1)" font-size="8.78" fill="#555555" stroke="#555555" stroke-width="0.36" font-weight="normal" textLength="39.3" lengthAdjust="spacing">DIMMB2</text>
<text transform="translate(363.80,108.30) scale(0.84,1)" font-size="8.23" fill="#555555" stroke="#555555" stroke-width="0.36" font-weight="normal" textLength="51.8" lengthAdjust="spacing">JCORSAIR1</text>
<text transform="translate(363.80,128.40) scale(0.84,1)" font-size="8.23" fill="#555555" stroke="#555555" stroke-width="0.36" font-weight="normal" textLength="57.6" lengthAdjust="spacing">PUMP_FAN1</text>
<text transform="translate(363.80,165.80) scale(0.84,1)" font-size="8.09" fill="#555555" stroke="#555555" stroke-width="0.36" font-weight="normal" textLength="47.4" lengthAdjust="spacing">SYS_FAN4</text>
<text transform="translate(363.80,219.60) scale(0.84,1)" font-size="8.64" fill="#555555" stroke="#555555" stroke-width="0.36" font-weight="normal" textLength="49.5" lengthAdjust="spacing">ATX_PWR1</text>
<text transform="translate(363.80,274.80) scale(0.84,1)" font-size="8.78" fill="#555555" stroke="#555555" stroke-width="0.36" font-weight="normal" textLength="47.4" lengthAdjust="spacing">SYS_FAN3</text>
<text transform="translate(363.80,291.20) scale(0.84,1)" font-size="9.05" fill="#555555" stroke="#555555" stroke-width="0.36" font-weight="normal" textLength="23.9" lengthAdjust="spacing">M2_1</text>
<text transform="translate(363.80,320.30) scale(0.84,1)" font-size="8.78" fill="#555555" stroke="#555555" stroke-width="0.36" font-weight="normal" textLength="23.9" lengthAdjust="spacing">M2_2</text>
<text transform="translate(363.80,409.10) scale(0.84,1)" font-size="8.37" fill="#555555" stroke="#555555" stroke-width="0.36" font-weight="normal" textLength="28.5" lengthAdjust="spacing">JBAT1</text>
<text transform="translate(363.80,439.70) scale(0.84,1)" font-size="8.37" fill="#555555" stroke="#555555" stroke-width="0.36" font-weight="normal" textLength="22.5" lengthAdjust="spacing">JFP2</text>
<text transform="translate(363.80,449.90) scale(0.84,1)" font-size="8.64" fill="#555555" stroke="#555555" stroke-width="0.36" font-weight="normal" textLength="22.5" lengthAdjust="spacing">JFP1</text>
<text transform="translate(364.00,339.10) scale(0.84,1)" font-size="8.50" fill="#555555" stroke="#555555" stroke-width="0.36" font-weight="normal" textLength="23.2" lengthAdjust="spacing">SATA</text>
<path d="M383.8,332.9 L391.2,332.9 L387.5,339.1 Z" fill="#222"/>
<text transform="translate(391.80,339.10) scale(0.84,1)" font-size="8.50" fill="#555555" stroke="#555555" stroke-width="0.36" font-weight="normal" textLength="5.2" lengthAdjust="spacing">5</text>
<path d="M396.5,339.1 L404,339.1 L400.25,332.9 Z" fill="#222"/>
<text transform="translate(404.80,339.10) scale(0.84,1)" font-size="8.50" fill="#555555" stroke="#555555" stroke-width="0.36" font-weight="normal" textLength="5.7" lengthAdjust="spacing">6</text>
<text transform="translate(364.00,360.80) scale(0.84,1)" font-size="8.37" fill="#555555" stroke="#555555" stroke-width="0.36" font-weight="normal" textLength="23.2" lengthAdjust="spacing">SATA</text>
<path d="M383.8,354.7 L391.2,354.7 L387.5,360.8 Z" fill="#222"/>
<text transform="translate(391.80,360.80) scale(0.84,1)" font-size="8.37" fill="#555555" stroke="#555555" stroke-width="0.36" font-weight="normal" textLength="5.2" lengthAdjust="spacing">3</text>
<path d="M396.5,360.8 L404,360.8 L400.25,354.7 Z" fill="#222"/>
<text transform="translate(404.80,360.80) scale(0.84,1)" font-size="8.37" fill="#555555" stroke="#555555" stroke-width="0.36" font-weight="normal" textLength="5.7" lengthAdjust="spacing">4</text>
<text transform="translate(364.00,387.50) scale(0.84,1)" font-size="8.50" fill="#555555" stroke="#555555" stroke-width="0.36" font-weight="normal" textLength="23.2" lengthAdjust="spacing">SATA</text>
<path d="M383.8,381.3 L391.2,381.3 L387.5,387.5 Z" fill="#222"/>
<text transform="translate(391.80,387.50) scale(0.84,1)" font-size="8.50" fill="#555555" stroke="#555555" stroke-width="0.36" font-weight="normal" textLength="5.2" lengthAdjust="spacing">1</text>
<path d="M396.5,387.5 L404,387.5 L400.25,381.3 Z" fill="#222"/>
<text transform="translate(404.80,387.50) scale(0.84,1)" font-size="8.50" fill="#555555" stroke="#555555" stroke-width="0.36" font-weight="normal" textLength="5.7" lengthAdjust="spacing">2</text>
<text transform="translate(2.20,279.30) scale(0.84,1)" font-size="9.19" fill="#555555" stroke="#555555" stroke-width="0.36" font-weight="normal" textLength="47.7" lengthAdjust="spacing">SYS_FAN1</text>
<text transform="translate(14.60,313.50) scale(0.84,1)" font-size="8.92" fill="#555555" stroke="#555555" stroke-width="0.36" font-weight="normal" textLength="33.0" lengthAdjust="spacing">PCI_E1</text>
<text transform="translate(14.60,338.90) scale(0.84,1)" font-size="9.19" fill="#555555" stroke="#555555" stroke-width="0.36" font-weight="normal" textLength="33.0" lengthAdjust="spacing">PCI_E2</text>
<text transform="translate(14.60,362.40) scale(0.84,1)" font-size="9.19" fill="#555555" stroke="#555555" stroke-width="0.36" font-weight="normal" textLength="33.0" lengthAdjust="spacing">PCI_E3</text>
<text transform="translate(14.60,386.20) scale(0.84,1)" font-size="9.19" fill="#555555" stroke="#555555" stroke-width="0.36" font-weight="normal" textLength="33.0" lengthAdjust="spacing">PCI_E4</text>
<text transform="translate(14.60,409.30) scale(0.84,1)" font-size="9.19" fill="#555555" stroke="#555555" stroke-width="0.36" font-weight="normal" textLength="33.0" lengthAdjust="spacing">PCI_E5</text>
<text transform="translate(82.20,468.50) scale(0.84,1)" font-size="9.19" fill="#555555" stroke="#555555" stroke-width="0.36" font-weight="normal" textLength="31.4" lengthAdjust="spacing">JAUD1</text>
<text transform="translate(107.60,481.20) scale(0.84,1)" font-size="8.23" fill="#555555" stroke="#555555" stroke-width="0.36" font-weight="normal" textLength="30.0" lengthAdjust="spacing">JRGB1</text>
<text transform="translate(112.10,496.40) scale(0.84,1)" font-size="8.50" fill="#555555" stroke="#555555" stroke-width="0.36" font-weight="normal" textLength="47.3" lengthAdjust="spacing">SYS_FAN2</text>
<text transform="translate(142.00,510.80) scale(0.84,1)" font-size="8.50" fill="#555555" stroke="#555555" stroke-width="0.36" font-weight="normal" textLength="31.4" lengthAdjust="spacing">JCOM1</text>
<text transform="translate(163.50,531.20) scale(0.84,1)" font-size="8.78" fill="#555555" stroke="#555555" stroke-width="0.36" font-weight="normal" textLength="18.0" lengthAdjust="spacing">JCI1</text>
<text transform="translate(171.10,545.20) scale(0.84,1)" font-size="9.05" fill="#555555" stroke="#555555" stroke-width="0.36" font-weight="normal" textLength="29.6" lengthAdjust="spacing">JTPM1</text>
<text transform="translate(189.70,527.10) scale(0.84,1)" font-size="9.05" fill="#555555" stroke="#555555" stroke-width="0.36" font-weight="normal" textLength="50.8" lengthAdjust="spacing">JPWRLED1</text>
<text transform="translate(213.90,512.90) scale(0.84,1)" font-size="8.92" fill="#555555" stroke="#555555" stroke-width="0.36" font-weight="normal" textLength="29.8" lengthAdjust="spacing">JUSB1</text>
<text transform="translate(239.60,500.60) scale(0.84,1)" font-size="9.05" fill="#555555" stroke="#555555" stroke-width="0.36" font-weight="normal" textLength="30.2" lengthAdjust="spacing">JUSB2</text>
<text transform="translate(276.10,490.10) scale(0.84,1)" font-size="8.92" fill="#555555" stroke="#555555" stroke-width="0.36" font-weight="normal" textLength="29.9" lengthAdjust="spacing">JUSB3</text>
<text transform="translate(296.20,468.90) scale(0.84,1)" font-size="8.64" fill="#555555" stroke="#555555" stroke-width="0.36" font-weight="normal" textLength="55.1" lengthAdjust="spacing">JRAINBOW1</text>
<rect x="417.3" y="0" width="282.70" height="32.50" fill="#4b4c4e"/>
<line x1="577.2" y1="0" x2="577.2" y2="32.5" stroke="#3a3a3a" stroke-width="1.0"/>
<rect x="417.3" y="32.33" width="282.70" height="24.37" fill="#dedfe1"/>
<text transform="translate(420.50,47.83) scale(0.78,1)" font-size="9.60" fill="#474747" stroke="#474747" stroke-width="0.36" font-weight="normal" textLength="193.1" lengthAdjust="spacing">CPU_FAN1, PUMP_FAN1, SYS_FAN1~4</text>
<text transform="translate(581.90,47.83) scale(0.78,1)" font-size="9.60" fill="#474747" stroke="#474747" stroke-width="0.36" font-weight="normal" textLength="77.8" lengthAdjust="spacing">Fan Connectors</text>
<line x1="417.3" y1="56.7" x2="700" y2="56.7" stroke="#6e6e6e" stroke-width="1.1"/>
<text transform="translate(420.50,72.20) scale(0.78,1)" font-size="9.60" fill="#474747" stroke="#474747" stroke-width="0.36" font-weight="normal" textLength="129.0" lengthAdjust="spacing">CPU_PWR1~2, ATX_PWR1</text>
<text transform="translate(581.90,72.20) scale(0.78,1)" font-size="9.60" fill="#474747" stroke="#474747" stroke-width="0.36" font-weight="normal" textLength="91.0" lengthAdjust="spacing">Power Connectors</text>
<rect x="417.3" y="81.07" width="282.70" height="24.37" fill="#dedfe1"/>
<line x1="417.3" y1="81.07" x2="700" y2="81.07" stroke="#6e6e6e" stroke-width="1.1"/>
<text transform="translate(420.50,96.57) scale(0.78,1)" font-size="9.60" fill="#474747" stroke="#474747" stroke-width="0.36" font-weight="normal" textLength="184.4" lengthAdjust="spacing">DIMMA1, DIMMA2, DIMMB1, DIMMB2</text>
<text transform="translate(581.90,96.57) scale(0.78,1)" font-size="9.60" fill="#474747" stroke="#474747" stroke-width="0.36" font-weight="normal" textLength="56.7" lengthAdjust="spacing">DIMM Slots</text>
<line x1="417.3" y1="105.44" x2="700" y2="105.44" stroke="#6e6e6e" stroke-width="1.1"/>
<text transform="translate(420.50,120.94) scale(0.78,1)" font-size="9.60" fill="#474747" stroke="#474747" stroke-width="0.36" font-weight="normal" textLength="32.4" lengthAdjust="spacing">JAUD1</text>
<text transform="translate(581.90,120.94) scale(0.78,1)" font-size="9.60" fill="#474747" stroke="#474747" stroke-width="0.36" font-weight="normal" textLength="111.3" lengthAdjust="spacing">Front Audio Connector</text>
<rect x="417.3" y="129.81" width="282.70" height="24.37" fill="#dedfe1"/>
<line x1="417.3" y1="129.81" x2="700" y2="129.81" stroke="#6e6e6e" stroke-width="1.1"/>
<text transform="translate(420.50,145.31) scale(0.78,1)" font-size="9.60" fill="#474747" stroke="#474747" stroke-width="0.36" font-weight="normal" textLength="29.7" lengthAdjust="spacing">JBAT1</text>
<text transform="translate(581.90,145.31) scale(0.78,1)" font-size="9.60" fill="#474747" stroke="#474747" stroke-width="0.36" font-weight="normal" textLength="100.1" lengthAdjust="spacing">Clear CMOS Jumper</text>
<line x1="417.3" y1="154.18" x2="700" y2="154.18" stroke="#6e6e6e" stroke-width="1.1"/>
<text transform="translate(420.50,169.68) scale(0.78,1)" font-size="9.60" fill="#474747" stroke="#474747" stroke-width="0.36" font-weight="normal" textLength="21.0" lengthAdjust="spacing">JCI1</text>
<text transform="translate(581.90,169.68) scale(0.78,1)" font-size="9.60" fill="#474747" stroke="#474747" stroke-width="0.36" font-weight="normal" textLength="140.5" lengthAdjust="spacing">Chassis Intrusion Connector</text>
<rect x="417.3" y="178.55" width="282.70" height="24.37" fill="#dedfe1"/>
<line x1="417.3" y1="178.55" x2="700" y2="178.55" stroke="#6e6e6e" stroke-width="1.1"/>
<text transform="translate(420.50,194.05) scale(0.78,1)" font-size="9.60" fill="#474747" stroke="#474747" stroke-width="0.36" font-weight="normal" textLength="33.5" lengthAdjust="spacing">JCOM1</text>
<text transform="translate(581.90,194.05) scale(0.78,1)" font-size="9.60" fill="#474747" stroke="#474747" stroke-width="0.36" font-weight="normal" textLength="107.2" lengthAdjust="spacing">Serial Port Connector</text>
<line x1="417.3" y1="202.92000000000002" x2="700" y2="202.92000000000002" stroke="#6e6e6e" stroke-width="1.1"/>
<text transform="translate(420.50,218.42) scale(0.78,1)" font-size="9.60" fill="#474747" stroke="#474747" stroke-width="0.36" font-weight="normal" textLength="56.2" lengthAdjust="spacing">JCORSAIR1</text>
<text transform="translate(581.90,218.42) scale(0.78,1)" font-size="9.60" fill="#474747" stroke="#474747" stroke-width="0.36" font-weight="normal" textLength="99.4" lengthAdjust="spacing">CORSAIR Connector</text>
<rect x="417.3" y="227.29000000000002" width="282.70" height="24.37" fill="#dedfe1"/>
<line x1="417.3" y1="227.29000000000002" x2="700" y2="227.29000000000002" stroke="#6e6e6e" stroke-width="1.1"/>
<text transform="translate(420.50,242.79) scale(0.78,1)" font-size="9.60" fill="#474747" stroke="#474747" stroke-width="0.36" font-weight="normal" textLength="54.6" lengthAdjust="spacing">JFP1, JFP2</text>
<text transform="translate(581.90,242.79) scale(0.78,1)" font-size="9.60" fill="#474747" stroke="#474747" stroke-width="0.36" font-weight="normal" textLength="116.9" lengthAdjust="spacing">Front Panel Connectors</text>
<line x1="417.3" y1="251.66000000000003" x2="700" y2="251.66000000000003" stroke="#6e6e6e" stroke-width="1.1"/>
<text transform="translate(420.50,267.16) scale(0.78,1)" font-size="9.60" fill="#474747" stroke="#474747" stroke-width="0.36" font-weight="normal" textLength="111.3" lengthAdjust="spacing">JRGB1~2, JRAINBOW1</text>
<text transform="translate(581.90,267.16) scale(0.78,1)" font-size="9.60" fill="#474747" stroke="#474747" stroke-width="0.36" font-weight="normal" textLength="103.1" lengthAdjust="spacing">RGB LED connectors</text>
<rect x="417.3" y="276.03000000000003" width="282.70" height="24.37" fill="#dedfe1"/>
<line x1="417.3" y1="276.03000000000003" x2="700" y2="276.03000000000003" stroke="#6e6e6e" stroke-width="1.1"/>
<text transform="translate(420.50,291.53) scale(0.78,1)" font-size="9.60" fill="#474747" stroke="#474747" stroke-width="0.36" font-weight="normal" textLength="32.4" lengthAdjust="spacing">JTPM1</text>
<text transform="translate(581.90,291.53) scale(0.78,1)" font-size="9.60" fill="#474747" stroke="#474747" stroke-width="0.36" font-weight="normal" textLength="115.1" lengthAdjust="spacing">TPM Module Connector</text>
<line x1="417.3" y1="300.4" x2="700" y2="300.4" stroke="#6e6e6e" stroke-width="1.1"/>
<text transform="translate(420.50,315.90) scale(0.78,1)" font-size="9.60" fill="#474747" stroke="#474747" stroke-width="0.36" font-weight="normal" textLength="44.4" lengthAdjust="spacing">JUSB1~2</text>
<text transform="translate(581.90,315.90) scale(0.78,1)" font-size="9.60" fill="#474747" stroke="#474747" stroke-width="0.36" font-weight="normal" textLength="97.8" lengthAdjust="spacing">USB 2.0 Connectors</text>
<rect x="417.3" y="324.77" width="282.70" height="24.37" fill="#dedfe1"/>
<line x1="417.3" y1="324.77" x2="700" y2="324.77" stroke="#6e6e6e" stroke-width="1.1"/>
<text transform="translate(420.50,340.27) scale(0.78,1)" font-size="9.60" fill="#474747" stroke="#474747" stroke-width="0.36" font-weight="normal" textLength="32.8" lengthAdjust="spacing">JUSB3</text>
<text transform="translate(581.90,340.27) scale(0.78,1)" font-size="9.60" fill="#474747" stroke="#474747" stroke-width="0.36" font-weight="normal" textLength="120.9" lengthAdjust="spacing">USB 3.2 Gen1 Connector</text>
<line x1="417.3" y1="349.14" x2="700" y2="349.14" stroke="#6e6e6e" stroke-width="1.1"/>
<text transform="translate(420.50,364.64) scale(0.78,1)" font-size="9.60" fill="#474747" stroke="#474747" stroke-width="0.36" font-weight="normal" textLength="38.1" lengthAdjust="spacing">M2_1~2</text>
<text transform="translate(581.90,364.64) scale(0.78,1)" font-size="9.60" fill="#474747" stroke="#474747" stroke-width="0.36" font-weight="normal" textLength="84.9" lengthAdjust="spacing">M.2 Slots (Key M)</text>
<rect x="417.3" y="373.51" width="282.70" height="24.37" fill="#dedfe1"/>
<line x1="417.3" y1="373.51" x2="700" y2="373.51" stroke="#6e6e6e" stroke-width="1.1"/>
<text transform="translate(420.50,389.01) scale(0.78,1)" font-size="9.60" fill="#474747" stroke="#474747" stroke-width="0.36" font-weight="normal" textLength="47.4" lengthAdjust="spacing">PCI_E1~5</text>
<text transform="translate(581.90,389.01) scale(0.78,1)" font-size="9.60" fill="#474747" stroke="#474747" stroke-width="0.36" font-weight="normal" textLength="104.6" lengthAdjust="spacing">PCIe Expansion Slots</text>
<line x1="417.3" y1="397.88" x2="700" y2="397.88" stroke="#6e6e6e" stroke-width="1.1"/>
<text transform="translate(420.50,413.38) scale(0.78,1)" font-size="9.60" fill="#474747" stroke="#474747" stroke-width="0.36" font-weight="normal" textLength="85.8" lengthAdjust="spacing">Processor Socket</text>
<text transform="translate(581.90,413.38) scale(0.78,1)" font-size="9.60" fill="#474747" stroke="#474747" stroke-width="0.36" font-weight="normal" textLength="57.1" lengthAdjust="spacing">AM4 socket</text>
<rect x="417.3" y="422.25" width="282.70" height="22.75" fill="#dedfe1"/>
<line x1="417.3" y1="422.25" x2="700" y2="422.25" stroke="#6e6e6e" stroke-width="1.1"/>
<text transform="translate(420.50,437.75) scale(0.78,1)" font-size="9.60" fill="#474747" stroke="#474747" stroke-width="0.36" font-weight="normal" textLength="43.7" lengthAdjust="spacing">SATA1~6</text>
<text transform="translate(581.90,437.75) scale(0.78,1)" font-size="9.60" fill="#474747" stroke="#474747" stroke-width="0.36" font-weight="normal" textLength="116.2" lengthAdjust="spacing">SATA 6Gb/s Connectors</text>
<line x1="417.3" y1="32.5" x2="700" y2="32.5" stroke="#2c2c2c" stroke-width="1.2"/>
<line x1="577.2" y1="32.5" x2="577.2" y2="445.0" stroke="#555" stroke-width="1.2"/>
<text transform="translate(475.50,18.90) scale(0.8,1)" font-size="9.60" fill="#ffffff" stroke="#ffffff" stroke-width="0.22" font-weight="bold" textLength="52.8" lengthAdjust="spacing">Port Name</text>
<text transform="translate(621.80,18.90) scale(0.8,1)" font-size="9.60" fill="#ffffff" stroke="#ffffff" stroke-width="0.22" font-weight="bold" textLength="47.4" lengthAdjust="spacing">Port Type</text>
<rect x="586.9" y="512.9" width="23.20" height="23.00" fill="#fff" stroke="#3b4254" stroke-width="1.9"/>
<text x="589.6" y="532" font-size="20.8" font-weight="bold" fill="#3b4254" textLength="17.8" lengthAdjust="spacingAndGlyphs">M</text>
<text x="613.3" y="530.7" font-size="18.3" fill="#dc5a52" stroke="#fff" stroke-width="0.35" textLength="34" lengthAdjust="spacingAndGlyphs">ARK</text>
<line x1="651.4" y1="517.8" x2="651.4" y2="529.5" stroke="#dc5a52" stroke-width="1.5"/>
<line x1="649.8" y1="518.2" x2="653" y2="518.2" stroke="#dc5a52" stroke-width="1.3"/>
<line x1="654" y1="518.2" x2="663.1" y2="518.2" stroke="#dc5a52" stroke-width="1.5"/>
<line x1="658.7" y1="518.2" x2="658.7" y2="529.5" stroke="#dc5a52" stroke-width="1.5"/>
<line x1="649.8" y1="530.3" x2="663.1" y2="530.3" stroke="#dc5a52" stroke-width="1.4"/>
</svg>
</body></html>
